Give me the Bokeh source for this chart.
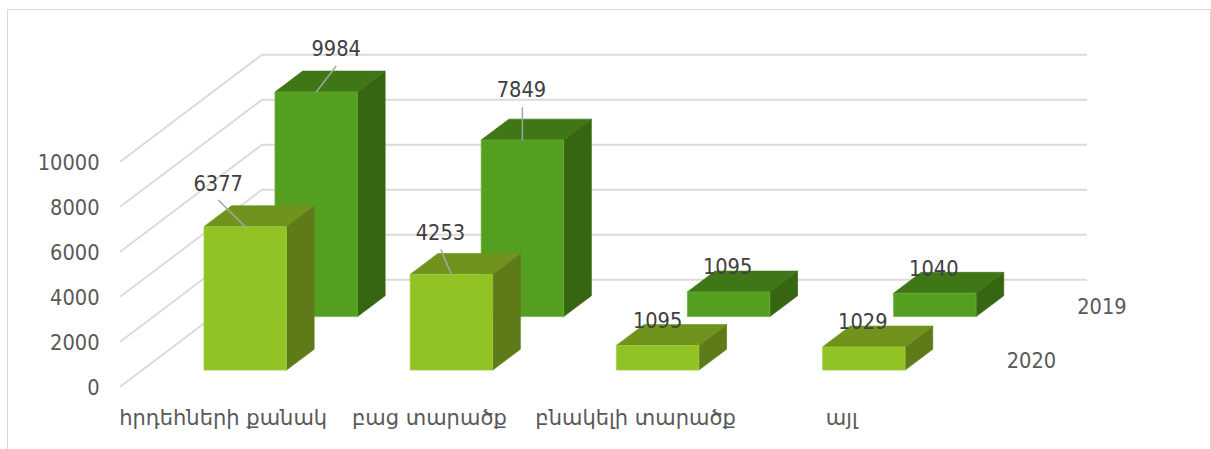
from bokeh.plotting import figure
from bokeh.embed import file_html
from bokeh.resources import INLINE
from bokeh.models import Range1d, LinearAxis, FixedTicker
from bokeh.core.properties import value

categories = ["հրդեհների քանակ", "բաց տարածք", "բնակելի տարածք", "այլ"]
values_2019 = [9984, 7849, 1095, 1040]
values_2020 = [6377, 4253, 1095, 1029]
series_names = ["2019", "2020"]
value_ticks = [0, 2000, 4000, 6000, 8000, 10000]

# label offsets from the bar's top-front centre, px (right, up)
label_off_2019 = [(20, 44), (-1, 50.7), (-1, 25.6), (-1, 25.6)]
label_off_2020 = [(-27, 43.7), (-11, 42.6), (0, 25.7), (-1, 26.3)]
# leader lines, px (right, up); None = no leader
leader_off_2019 = [(20, 26), (0, 32.7), None, None]
leader_off_2020 = [(-27, 26.7), (-10.6, 25), None, None]

FONT = "DejaVu Sans Condensed"
CAT_FONT = "DejaVu Sans"
PX_PER_CAT = 206.2
PX_PER_VAL = 0.0225
OX, OY = 8.4, 10.5                   # page position of the canvas, as placed on the reference
W, H = 1204, 440
X0_PX, Y0_PX = 120.0 - OX, 386.7 - OY  # canvas px of category 0 / value 0, front floor corner
L, R, T, B = 102, W - 2, 1, 390      # frame in canvas px
DX = 71.0 / PX_PER_CAT               # one depth unit, in category units
DY = 53.5 / PX_PER_VAL               # one depth unit, in value units
BAR_LO, BAR_HI = 0.3, 0.7            # bar extent within a category
DEPTH_LO, DEPTH_HI = 0.31, 0.70      # bar extent within a series slot

FRONT = ["#559F20", "#90C323"]
FRONT_EDGE = ["#6BAF3C", "#A5CF4C"]
TOP = ["#3F7717", "#6F931C"]
SIDE = ["#366612", "#5F7B19"]
EDGE = "1px solid #D9D9D9"


def proj(c, d, v):
    return c + d * DX, v + d * DY


x_range = Range1d((L - X0_PX) / PX_PER_CAT, (R - X0_PX) / PX_PER_CAT)
y_range = Range1d((Y0_PX - B) / PX_PER_VAL, (Y0_PX - T) / PX_PER_VAL)

p = figure(width=W, height=H, x_range=x_range, y_range=y_range,
           output_backend="svg", toolbar_location=None,
           x_axis_location=None, y_axis_location=None,
           min_border_left=L, min_border_right=W - R,
           min_border_top=T, min_border_bottom=H - B,
           outline_line_color=None, background_fill_color="white",
           margin=(9, 0, 0, 7),
           styles={"border-left": EDGE, "border-top": EDGE, "border-right": EDGE})
p.grid.visible = False

yaxis = LinearAxis(ticker=FixedTicker(ticks=value_ticks))
xaxis = LinearAxis(ticker=FixedTicker(ticks=[i + 0.5 for i in range(len(categories))]),
                   major_label_overrides={i + 0.5: c for i, c in enumerate(categories)})
for ax in (xaxis, yaxis):
    ax.axis_line_color = None
    ax.major_tick_line_color = None
    ax.minor_tick_line_color = None
    ax.major_tick_out = 0
    ax.major_label_text_color = "#595959"
yaxis.major_label_text_font = FONT
yaxis.major_label_text_font_size = "21.6px"
xaxis.major_label_text_font = CAT_FONT
xaxis.major_label_text_font_size = "21px"
yaxis.major_label_standoff = 11
xaxis.major_label_standoff = 5
p.add_layout(yaxis, "left")
p.add_layout(xaxis, "below")

# walls
n = len(categories)
xs, ys = [], []
for t in value_ticks:
    a = proj(0, 0, t)
    b = proj(0, 2, t)
    c = proj(n, 2, t)
    xs.append([a[0], b[0], c[0]])
    ys.append([a[1], b[1], c[1]])
p.multi_line(xs, ys, line_color="#DADADA", line_width=1.9)


def draw_series(vals, slot, s):
    d0, d1 = slot + DEPTH_LO, slot + DEPTH_HI
    faces = {"front": ([], []), "top": ([], []), "side": ([], [])}
    for i, v in enumerate(vals):
        c0, c1 = i + BAR_LO, i + BAR_HI
        corners = {
            "front": [(c0, d0, 0), (c1, d0, 0), (c1, d0, v), (c0, d0, v)],
            "top": [(c0, d0, v), (c1, d0, v), (c1, d1, v), (c0, d1, v)],
            "side": [(c1, d0, 0), (c1, d1, 0), (c1, d1, v), (c1, d0, v)],
        }
        for k, pts in corners.items():
            pr = [proj(*q) for q in pts]
            faces[k][0].append([q[0] for q in pr])
            faces[k][1].append([q[1] for q in pr])
    for k, col, edge in (("side", SIDE[s], SIDE[s]), ("top", TOP[s], TOP[s]),
                         ("front", FRONT[s], FRONT_EDGE[s])):
        p.patches(faces[k][0], faces[k][1], fill_color=col, line_color=edge, line_width=0.7)


def top_centre(i, v, slot):
    return proj(i + 0.5, slot + DEPTH_LO, v)


def draw_labels(vals, slot, label_off, leader_off):
    lx, ly, txt = [], [], []
    for i, v in enumerate(vals):
        cx, cy = top_centre(i, v, slot)
        lo = leader_off[i]
        if lo is not None:
            p.line([cx, cx + lo[0] / PX_PER_CAT], [cy, cy + lo[1] / PX_PER_VAL],
                   line_color="#A6A6A6", line_width=1.5)
        off = label_off[i]
        lx.append(cx + off[0] / PX_PER_CAT)
        ly.append(cy + off[1] / PX_PER_VAL)
        txt.append(str(v))
    p.text(lx, ly, text=txt, text_align="center", text_baseline="middle",
           text_font=value(FONT), text_font_size="21.6px", text_color="#404040")


draw_series(values_2019, 1, 0)
draw_series(values_2020, 0, 1)
draw_labels(values_2019, 1, label_off_2019, leader_off_2019)
draw_labels(values_2020, 0, label_off_2020, leader_off_2020)

# depth axis labels
depth_x = [proj(n, 1.5, 0)[0], proj(n, 0.5, 0)[0]]
depth_y = [proj(n, 1.5, 0)[1], proj(n, 0.5, 0)[1]]
p.text(depth_x, depth_y, text=series_names, text_align="center", text_baseline="middle",
       x_offset=[50.5, 51], y_offset=[0, 0],
       text_font=value(FONT), text_font_size="21.6px", text_color="#595959")

open("out.html", "w").write(file_html(p, INLINE))
